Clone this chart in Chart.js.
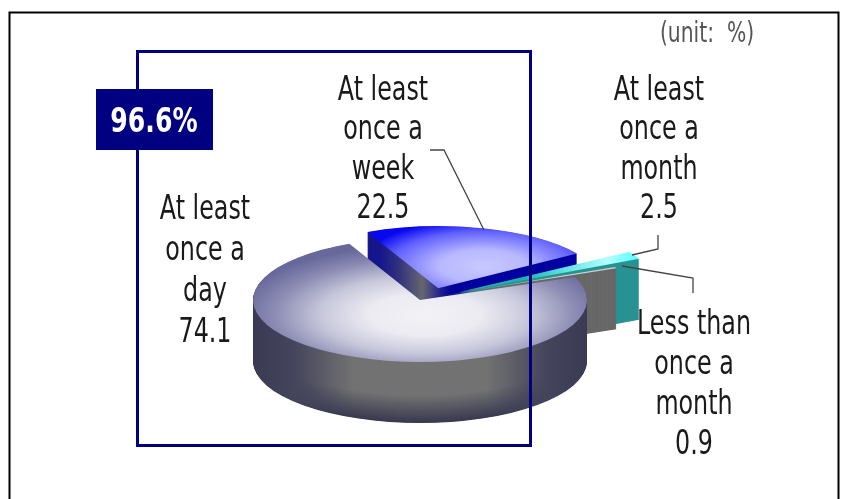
<!DOCTYPE html>
<html><head><meta charset="utf-8">
<style>html,body{margin:0;padding:0;background:#fff;overflow:hidden}canvas{display:block}</style>
<script src="https://cdn.jsdelivr.net/npm/chart.js@4"></script></head>
<body><canvas id="c" width="848" height="499" style="width:848px;height:499px"></canvas>
<script>
const categories = ['At least once a day','At least once a week','At least once a month','Less than once a month'];
const shares = [74.1, 22.5, 2.5, 0.9];
const sliceOffsets = [0, 198, 167, 95];
const dayLabel = ['At least','once a','day','74.1'];
const weekLabel = ['At least','once a','week','22.5'];
const monthLabel = ['At least','once a','month','2.5'];
const lessLabel = ['Less than','once a','month','0.9'];
const totalLabel = '96.6%';
const unitLabel = '(unit:  %)';

const FONT = '"DejaVu Sans"';
const SQUASH = 0.371, CENTER_Y = 300, DEPTH = 61;
const NUDGE = [[0,0],[5,6],[2,0],[0,-1]];

function mix(a,b,t){return 'rgb('+a.map((v,i)=>Math.round(v+(b[i]-v)*t)).join(',')+')';}
function linear(ctx,x0,x1,stops){const g=ctx.createLinearGradient(x0,0,x1,0);stops.forEach(s=>g.addColorStop(s[0],s[1]));return g;}
function radial(ctx,x,y,r,stops){const g=ctx.createRadialGradient(x,y,0,x,y,r);stops.forEach(s=>g.addColorStop(s[0],s[1]));return g;}

function drawArc(ctx,el,fill,dy,i){
  const proxy=Object.create(el);
  Object.defineProperty(proxy,'options',{value:{offset:el.options.offset,spacing:0,circular:true,borderAlign:'center',borderWidth:0,backgroundColor:fill},writable:true});
  ctx.save();
  ctx.translate(NUDGE[i][0],dy+NUDGE[i][1]);
  ctx.translate(el.x,CENTER_Y);ctx.scale(1,SQUASH);ctx.translate(-el.x,-el.y);
  Chart.elements.ArcElement.prototype.draw.call(proxy,ctx);
  ctx.restore();
}
function sideFill(ctx,i,t){
  const dark=[56,56,80],mid=[114,114,114];
  if(i===0){
    const c=mix(mid,dark,Math.max(0,(t-0.55)/0.45));
    return linear(ctx,253,587,[[0,'#3a3a54'],[0.12,'#44445c'],[0.3,c],[0.7,c],[0.88,'#44445c'],[1,'#3a3a54']]);
  }
  if(i===1) return linear(ctx,362,462,[[0,'#15158e'],[0.18,'#30307e'],[0.42,'#666670'],[0.62,'#1a1a90'],[0.72,'#000098'],[1,'#0000a0']]);
  if(i===2) return '#2a9292';
  return '#686868';
}
function topFill(ctx,i,el){
  const x=el.x,y=el.y;
  if(i===0) return radial(ctx,x+5,y+40,188,[[0,'#f2f2f6'],[0.3,'#ecebf2'],[0.55,'#c8c8dc'],[0.8,'#8c8cb4'],[1,'#68689c']]);
  if(i===1) return radial(ctx,x+45,y-60,125,[[0,'#c8c8ff'],[0.35,'#b8b8ff'],[0.75,'#6060ff'],[1,'#0808f0']]);
  if(i===2) return linear(ctx,487,637,[[0,'#20b0b0'],[0.25,'#60e0e0'],[0.55,'#b0ffff'],[0.8,'#40ffff'],[1,'#10f0ff']]);
  return linear(ctx,462,617,[[0,'#8a8a8a'],[0.5,'#d8d8d8'],[1,'#c4c4c4']]);
}
const pie3d={id:'pie3d',beforeDatasetsDraw(chart){
  const ctx=chart.ctx,arcs=chart.getDatasetMeta(0).data;
  [1,2,3,0].forEach(i=>{
    const el=arcs[i];
    for(let d=DEPTH;d>=0.5;d-=0.5) drawArc(ctx,el,sideFill(ctx,i,d/DEPTH),d,i);
    drawArc(ctx,el,topFill(ctx,i,el),0,i);
  });
  return false;
}};
function polyline(ctx,pts){ctx.beginPath();pts.forEach((p,i)=>i?ctx.lineTo(p[0],p[1]):ctx.moveTo(p[0],p[1]));ctx.stroke();}
function squeezed(ctx,s,cx,base,sx){ctx.save();ctx.translate(cx,base);ctx.scale(sx,1);ctx.fillText(s,0,0);ctx.restore();}
function block(ctx,lines,cx,base,lh){lines.forEach((s,i)=>squeezed(ctx,s,cx,base+i*lh,0.7));}
const annotations={id:'annotations',
  beforeDatasetsDraw(chart){
    const ctx=chart.ctx;ctx.save();
    ctx.strokeStyle='#000';ctx.lineWidth=2;
    polyline(ctx,[[9.5,500],[9.5,12.5],[838.5,12.5],[838.5,500]]);
    ctx.restore();
  },
  afterDraw(chart){
    const ctx=chart.ctx;ctx.save();
    ctx.strokeStyle='#000080';ctx.lineWidth=3;ctx.strokeRect(137.5,51.5,393,394);
    ctx.fillStyle='#000080';ctx.fillRect(96,89,117,61);
    ctx.strokeStyle='#444';ctx.lineWidth=1.3;
    polyline(ctx,[[430,150],[444,150],[484,230]]);
    polyline(ctx,[[658,235],[658,249],[632,255]]);
    polyline(ctx,[[622,266],[693,278],[693,293]]);
    ctx.textAlign='center';ctx.textBaseline='alphabetic';
    ctx.fillStyle='#fff';ctx.font='bold 34px '+FONT;squeezed(ctx,totalLabel,154,132,0.74);
    ctx.fillStyle='#1a1a1a';ctx.font='34px '+FONT;
    block(ctx,dayLabel,205,219,41);
    block(ctx,weekLabel,383,100,39.4);
    block(ctx,monthLabel,659,100,39.4);
    block(ctx,lessLabel,694,334,40);
    ctx.fillStyle='#555';ctx.font='29px '+FONT;squeezed(ctx,unitLabel,707,42,0.7);
    ctx.restore();
  }};
new Chart(document.getElementById('c'),{
  type:'pie',
  data:{labels:categories,datasets:[{data:shares,offset:sliceOffsets,borderWidth:0,hoverOffset:0}]},
  options:{responsive:false,animation:false,rotation:68.2,radius:167,
    layout:{padding:{left:0,right:8,top:0,bottom:0}},
    events:[],
    plugins:{legend:{display:false},tooltip:{enabled:false}}},
  plugins:[annotations,pie3d]
});
</script></body></html>
